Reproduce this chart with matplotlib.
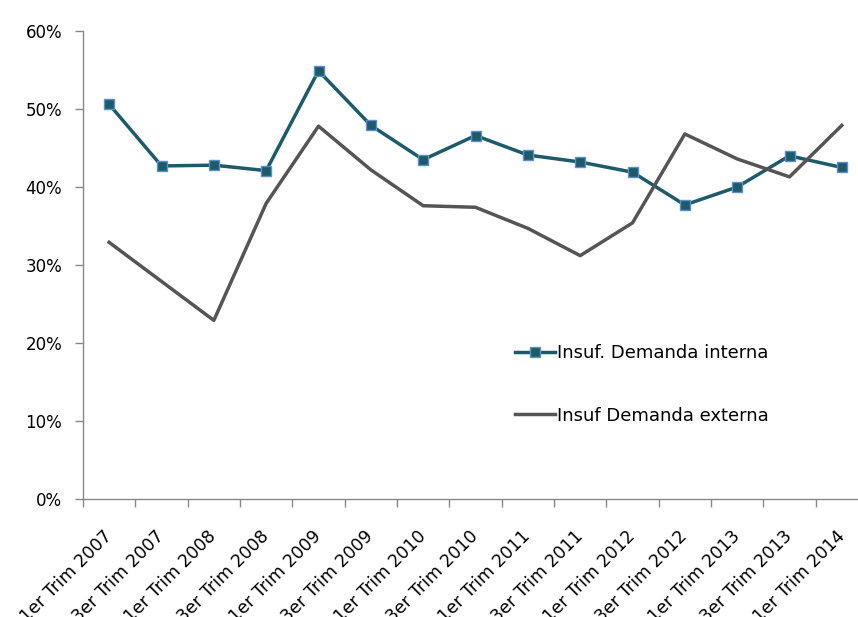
import matplotlib.pyplot as plt
from matplotlib.ticker import PercentFormatter
import numpy as np

periods = [
    "1er Trim 2007", "3er Trim 2007", "1er Trim 2008", "3er Trim 2008",
    "1er Trim 2009", "3er Trim 2009", "1er Trim 2010", "3er Trim 2010",
    "1er Trim 2011", "3er Trim 2011", "1er Trim 2012", "3er Trim 2012",
    "1er Trim 2013", "3er Trim 2013", "1er Trim 2014",
]
demanda_interna = [50.6, 42.7, 42.8, 42.1, 54.9, 47.9, 43.5, 46.6,
                   44.1, 43.2, 41.9, 37.7, 40.0, 44.0, 42.5]
demanda_externa = [32.9, 27.9, 22.9, 37.9, 47.8, 42.2, 37.6, 37.4,
                   34.7, 31.2, 35.4, 46.8, 43.6, 41.3, 47.9]

W, H = 858, 617
fig = plt.figure(figsize=(W / 100, H / 100), dpi=100)
ax = fig.add_axes([83 / W, (H - 499) / H, 785 / W, 468 / H])

x = np.arange(len(periods))
ax.plot(x, demanda_interna, color="#1d5a6a", lw=2.5, marker="s", ms=7.5,
        mfc="#1d5a6a", mec="#5b8fcf", mew=1.0, label="Insuf. Demanda interna")
ax.plot(x, demanda_externa, color="#555555", lw=2.5, label="Insuf Demanda externa")

ax.set_xlim(-0.5, len(periods) - 0.5)
ax.set_ylim(0, 60)
ax.yaxis.set_major_formatter(PercentFormatter(decimals=0))
ax.set_yticks(np.arange(0, 61, 10))

# category labels sit on the points, tick marks sit between categories
ax.set_xticks(x)
ax.set_xticklabels(periods, rotation=45, ha="right", va="center",
                   rotation_mode="anchor")
ax.set_xticks(np.arange(-0.5, len(periods), 1), minor=True)
ax.tick_params(axis="x", which="major", length=0, pad=25, labelsize=12.5)
ax.tick_params(axis="x", which="minor", length=6, color="#888888", width=1)
ax.tick_params(axis="y", length=6, color="#888888", width=1, pad=9, labelsize=12)

for side in ("top", "right"):
    ax.spines[side].set_visible(False)
for side in ("left", "bottom"):
    ax.spines[side].set_color("#888888")
    ax.spines[side].set_linewidth(1)

ax.legend(loc="upper left", bbox_to_anchor=(0.53, 0.365), frameon=False,
          fontsize=13, labelspacing=2.45, handlelength=2.2, handletextpad=0.1)

fig.savefig("out.png", dpi=100)
